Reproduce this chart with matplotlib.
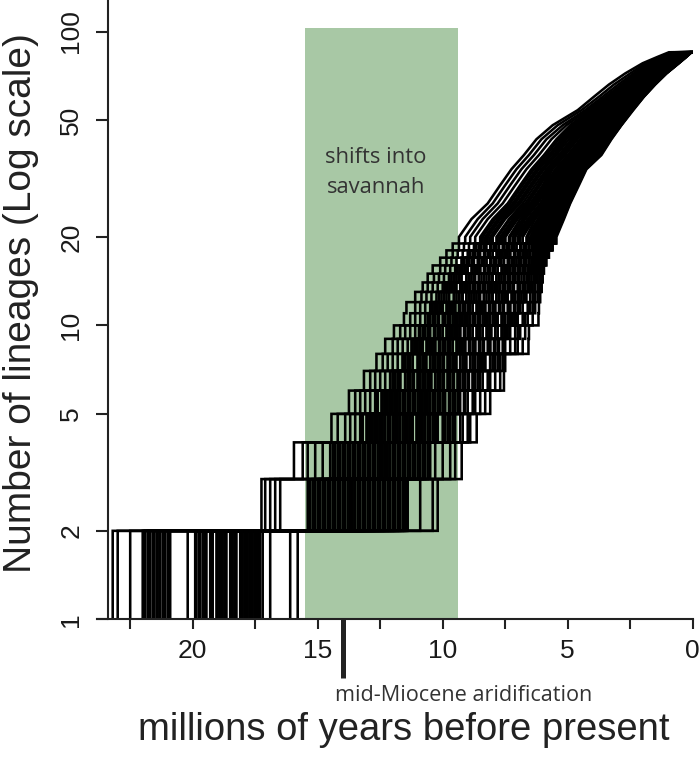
import numpy as np
import matplotlib
matplotlib.use("Agg")
import matplotlib.pyplot as plt
from matplotlib.ticker import NullLocator, FixedLocator
from matplotlib.transforms import blended_transform_factory

plt.rcParams['font.family'] = ['Liberation Sans', 'DejaVu Sans']

# lineage counts where every single step is visible (2 = root of each tree)
step_lineages = [2, 3, 4, 5, 6, 7, 8, 9, 10, 11, 12, 13, 14, 15, 16, 17, 18, 19, 20]
# one row per lineage count, one column per tree (Myr before present)
step_times = [
    [23.2, 23.0, 22.5, 22.0, 21.9, 21.8, 21.7, 21.6, 21.4, 21.3, 21.2, 21.0, 20.9, 20.2, 19.9, 19.7, 19.6, 19.5, 19.3, 19.2,
     19.0, 18.9, 18.8, 18.7, 18.5, 18.4, 18.3, 18.1, 18.0, 17.9, 17.8, 17.7, 17.6, 17.5, 17.4, 17.3, 17.2, 16.9, 16.1, 15.8],
    [17.25, 17.1, 16.9, 16.7, 16.5, 15.4, 15.2, 15.0, 14.9, 14.8, 14.6, 14.5, 14.4, 14.2, 14.1, 14.0, 13.9, 13.7, 13.6, 13.5,
     13.4, 13.2, 13.1, 13.0, 12.8, 12.7, 12.6, 12.4, 12.3, 12.2, 12.0, 11.9, 11.8, 11.7, 11.6, 11.5, 11.4, 10.9, 10.4, 10.2],
    [15.95, 15.6, 15.4, 15.1, 14.8, 14.5, 14.3, 14.2, 14.0, 13.9, 13.8, 13.6, 13.5, 13.4, 13.3, 13.1, 13.0, 12.9, 12.8, 12.7,
     12.5, 12.4, 12.3, 12.2, 12.0, 11.9, 11.8, 11.7, 11.5, 11.4, 11.2, 11.0, 10.9, 10.7, 10.5, 10.3, 10.0, 9.7, 9.5, 9.24],
    [14.45, 14.2, 13.9, 13.7, 13.5, 13.3, 13.2, 13.0, 12.9, 12.8, 12.7, 12.6, 12.5, 12.4, 12.2, 12.1, 12.0, 11.9, 11.8, 11.7,
     11.5, 11.4, 11.3, 11.2, 11.0, 10.9, 10.8, 10.6, 10.5, 10.3, 10.2, 10.0, 9.9, 9.7, 9.5, 9.3, 9.2, 9.0, 8.9, 8.64],
    [13.75, 13.5, 13.3, 13.1, 12.9, 12.7, 12.6, 12.4, 12.3, 12.2, 12.1, 12.0, 11.9, 11.8, 11.6, 11.5, 11.4, 11.3, 11.2, 11.1,
     10.9, 10.8, 10.7, 10.6, 10.4, 10.3, 10.2, 10.0, 9.9, 9.7, 9.6, 9.4, 9.3, 9.1, 9.0, 8.8, 8.7, 8.5, 8.3, 8.1],
    [13.15, 12.9, 12.7, 12.5, 12.3, 12.1, 12.0, 11.9, 11.8, 11.7, 11.5, 11.4, 11.3, 11.2, 11.0, 10.9, 10.8, 10.7, 10.6, 10.5,
     10.3, 10.2, 10.1, 10.0, 9.8, 9.7, 9.6, 9.4, 9.3, 9.1, 9.0, 8.8, 8.7, 8.5, 8.4, 8.2, 8.1, 7.9, 7.7, 7.55],
    [12.65, 12.4, 12.2, 12.0, 11.8, 11.6, 11.5, 11.4, 11.3, 11.2, 11.0, 10.9, 10.8, 10.7, 10.5, 10.4, 10.3, 10.2, 10.1, 10.0,
     9.8, 9.7, 9.6, 9.5, 9.3, 9.2, 9.1, 8.9, 8.8, 8.6, 8.5, 8.4, 8.3, 8.1, 8.0, 7.9, 7.8, 7.7, 7.6, 7.5],
    [12.3, 12.0, 11.8, 11.6, 11.4, 11.2, 11.1, 11.0, 10.9, 10.8, 10.6, 10.5, 10.4, 10.3, 10.1, 10.0, 9.9, 9.8, 9.7, 9.6,
     9.4, 9.3, 9.2, 9.1, 8.9, 8.8, 8.7, 8.5, 8.4, 8.2, 8.1, 7.9, 7.8, 7.6, 7.5, 7.3, 7.1, 7.0, 6.8, 6.57],
    [11.95, 11.7, 11.5, 11.3, 11.1, 10.9, 10.8, 10.7, 10.6, 10.5, 10.3, 10.2, 10.1, 10.0, 9.8, 9.7, 9.6, 9.5, 9.4, 9.3,
     9.1, 9.0, 8.9, 8.8, 8.6, 8.5, 8.4, 8.2, 8.1, 7.9, 7.8, 7.6, 7.5, 7.4, 7.3, 7.1, 7.0, 6.9, 6.7, 6.55],
    [11.55, 11.3, 11.1, 10.9, 10.7, 10.6, 10.5, 10.4, 10.3, 10.2, 10.0, 9.9, 9.8, 9.7, 9.5, 9.4, 9.3, 9.2, 9.1, 9.0,
     8.8, 8.7, 8.6, 8.5, 8.3, 8.2, 8.1, 7.9, 7.8, 7.6, 7.5, 7.3, 7.2, 7.1, 7.0, 6.8, 6.7, 6.6, 6.4, 6.17],
    [11.45, 11.1, 10.9, 10.7, 10.5, 10.4, 10.3, 10.2, 10.1, 10.0, 9.8, 9.7, 9.6, 9.5, 9.3, 9.2, 9.1, 9.0, 8.9, 8.8,
     8.6, 8.5, 8.4, 8.3, 8.1, 8.0, 7.9, 7.7, 7.6, 7.4, 7.3, 7.1, 7.0, 6.9, 6.8, 6.6, 6.5, 6.4, 6.3, 6.15],
    [11.1, 10.85, 10.65, 10.45, 10.25, 10.15, 10.05, 9.95, 9.85, 9.75, 9.55, 9.45, 9.35, 9.25, 9.05, 8.95, 8.85, 8.75, 8.65, 8.55,
     8.35, 8.25, 8.15, 8.05, 7.85, 7.75, 7.65, 7.5, 7.4, 7.2, 7.1, 6.95, 6.85, 6.75, 6.65, 6.5, 6.4, 6.3, 6.2, 6.1],
    [10.8, 10.6, 10.4, 10.2, 10.0, 9.9, 9.8, 9.7, 9.6, 9.5, 9.3, 9.2, 9.1, 9.0, 8.8, 8.7, 8.6, 8.5, 8.4, 8.3,
     8.1, 8.0, 7.9, 7.8, 7.6, 7.5, 7.4, 7.3, 7.2, 7.0, 6.9, 6.8, 6.7, 6.6, 6.5, 6.4, 6.3, 6.2, 6.1, 6.04],
    [10.6, 10.35, 10.15, 9.95, 9.75, 9.65, 9.55, 9.45, 9.35, 9.25, 9.05, 8.95, 8.85, 8.75, 8.55, 8.45, 8.35, 8.25, 8.15, 8.05,
     7.85, 7.75, 7.65, 7.55, 7.4, 7.3, 7.2, 7.1, 7.0, 6.85, 6.75, 6.65, 6.55, 6.45, 6.35, 6.28, 6.2, 6.12, 6.05, 6.0],
    [10.4, 10.1, 9.9, 9.7, 9.5, 9.4, 9.3, 9.2, 9.1, 9.0, 8.8, 8.7, 8.6, 8.5, 8.3, 8.2, 8.1, 8.0, 7.9, 7.8,
     7.6, 7.5, 7.4, 7.3, 7.2, 7.1, 7.0, 6.9, 6.8, 6.7, 6.6, 6.5, 6.4, 6.3, 6.2, 6.15, 6.1, 6.05, 6.0, 5.95],
    [10.1, 9.85, 9.65, 9.45, 9.25, 9.15, 9.05, 8.95, 8.85, 8.75, 8.55, 8.45, 8.35, 8.25, 8.05, 7.95, 7.85, 7.75, 7.65, 7.55,
     7.35, 7.25, 7.15, 7.05, 6.95, 6.85, 6.75, 6.65, 6.55, 6.45, 6.38, 6.3, 6.22, 6.15, 6.08, 6.02, 5.98, 5.93, 5.89, 5.85],
    [9.85, 9.6, 9.4, 9.2, 9.0, 8.9, 8.8, 8.7, 8.6, 8.5, 8.3, 8.2, 8.1, 8.0, 7.8, 7.7, 7.6, 7.5, 7.4, 7.3,
     7.1, 7.0, 6.9, 6.8, 6.7, 6.6, 6.5, 6.4, 6.3, 6.2, 6.15, 6.1, 6.05, 6.0, 5.95, 5.9, 5.85, 5.8, 5.78, 5.75],
    [9.6, 9.35, 9.15, 8.95, 8.75, 8.65, 8.55, 8.45, 8.35, 8.25, 8.05, 7.95, 7.85, 7.75, 7.55, 7.45, 7.35, 7.25, 7.15, 7.05,
     6.85, 6.75, 6.65, 6.55, 6.45, 6.35, 6.28, 6.2, 6.12, 6.05, 6.0, 5.95, 5.9, 5.85, 5.8, 5.75, 5.7, 5.65, 5.63, 5.6],
    [9.35, 9.1, 8.9, 8.7, 8.5, 8.4, 8.3, 8.2, 8.1, 8.0, 7.8, 7.7, 7.6, 7.5, 7.3, 7.2, 7.1, 7.0, 6.9, 6.8,
     6.6, 6.5, 6.4, 6.3, 6.2, 6.1, 6.05, 6.0, 5.95, 5.9, 5.85, 5.8, 5.75, 5.7, 5.65, 5.6, 5.55, 5.5, 5.48, 5.45],
]
# further trees, all inside the dense core of the bundle
step_times_core = [
    [21.95, 21.75, 21.55, 21.45, 21.1, 20.95, 19.85, 19.75, 19.45, 19.25, 19.05, 18.85, 18.65, 18.45, 18.25, 18.05, 17.85, 17.65, 17.45, 17.35],
    [15.3, 15.1, 14.95, 14.7, 14.55, 14.3, 14.15, 13.8, 13.65, 13.3, 13.15, 12.9, 12.75, 12.5, 12.35, 12.1, 11.95, 11.75, 11.55, 11.45],
    [14.4, 14.1, 13.95, 13.7, 13.55, 13.35, 13.2, 12.95, 12.75, 12.6, 12.45, 12.25, 12.1, 11.95, 11.75, 11.6, 11.3, 11.1, 10.8, 10.6],
    [13.25, 13.05, 12.85, 12.65, 12.45, 12.3, 12.15, 11.95, 11.85, 11.6, 11.45, 11.25, 11.05, 10.85, 10.7, 10.4, 10.25, 9.95, 9.8, 9.6],
    [12.65, 12.45, 12.25, 12.05, 11.85, 11.7, 11.55, 11.35, 11.15, 11.0, 10.85, 10.65, 10.5, 10.35, 10.1, 9.95, 9.75, 9.5, 9.35, 9.15],
    [12.1, 11.9, 11.7, 11.5, 11.3, 11.15, 11.0, 10.8, 10.6, 10.45, 10.3, 10.1, 9.95, 9.8, 9.55, 9.4, 9.2, 8.95, 8.8, 8.6],
    [11.6, 11.4, 11.2, 11.0, 10.8, 10.65, 10.5, 10.3, 10.1, 9.95, 9.8, 9.6, 9.45, 9.3, 9.05, 8.9, 8.7, 8.45, 8.3, 8.1],
    [11.25, 11.05, 10.85, 10.65, 10.45, 10.3, 10.15, 9.95, 9.75, 9.6, 9.45, 9.25, 9.1, 8.95, 8.7, 8.55, 8.35, 8.1, 7.95, 7.75],
    [10.95, 10.75, 10.55, 10.35, 10.15, 10.0, 9.85, 9.65, 9.45, 9.3, 9.15, 8.95, 8.8, 8.65, 8.4, 8.25, 8.05, 7.8, 7.65, 7.45],
    [10.55, 10.35, 10.15, 9.95, 9.75, 9.6, 9.45, 9.25, 9.05, 8.9, 8.75, 8.55, 8.4, 8.25, 8.0, 7.85, 7.65, 7.4, 7.25, 7.05],
    [10.45, 10.25, 10.05, 9.85, 9.65, 9.5, 9.35, 9.15, 8.95, 8.8, 8.65, 8.45, 8.3, 8.15, 7.9, 7.75, 7.55, 7.3, 7.15, 6.95],
    [10.15, 9.95, 9.75, 9.55, 9.35, 9.2, 9.05, 8.85, 8.65, 8.5, 8.35, 8.15, 8.0, 7.85, 7.6, 7.45, 7.25, 7.0, 6.85, 6.7],
    [9.85, 9.65, 9.45, 9.25, 9.05, 8.9, 8.75, 8.55, 8.35, 8.2, 8.05, 7.85, 7.7, 7.55, 7.3, 7.15, 6.95, 6.75, 6.6, 6.45],
    [9.65, 9.45, 9.25, 9.05, 8.85, 8.7, 8.55, 8.35, 8.15, 8.0, 7.85, 7.65, 7.5, 7.35, 7.1, 6.95, 6.75, 6.6, 6.45, 6.3],
    [9.45, 9.25, 9.05, 8.85, 8.65, 8.5, 8.35, 8.15, 7.95, 7.8, 7.65, 7.45, 7.3, 7.15, 6.9, 6.75, 6.6, 6.45, 6.35, 6.25],
    [9.2, 9.0, 8.8, 8.6, 8.4, 8.25, 8.1, 7.9, 7.7, 7.55, 7.4, 7.2, 7.05, 6.9, 6.7, 6.55, 6.45, 6.3, 6.2, 6.1],
    [8.95, 8.75, 8.55, 8.35, 8.15, 8.0, 7.85, 7.65, 7.45, 7.3, 7.15, 6.95, 6.8, 6.65, 6.5, 6.35, 6.25, 6.1, 6.0, 5.92],
    [8.7, 8.5, 8.3, 8.1, 7.9, 7.75, 7.6, 7.4, 7.2, 7.05, 6.9, 6.7, 6.55, 6.4, 6.3, 6.15, 6.05, 5.95, 5.85, 5.75],
    [8.45, 8.25, 8.05, 7.85, 7.65, 7.5, 7.35, 7.15, 6.95, 6.8, 6.65, 6.45, 6.35, 6.25, 6.15, 6.0, 5.9, 5.8, 5.7, 5.6],
]

# above 20 lineages the single steps are too small to see: read at checkpoints
upper_lineages = [23, 26, 30, 34, 38, 43, 48, 54, 60, 66, 72, 78, 82, 85]
upper_times = [
    [8.85, 8.6, 8.4, 8.2, 8.0, 7.9, 7.8, 7.7, 7.6, 7.5, 7.3, 7.2, 7.1, 7.0, 6.8, 6.7, 6.6, 6.5, 6.4, 6.3,
     6.2, 6.1, 6.0, 5.9, 5.85, 5.8, 5.75, 5.7, 5.65, 5.6, 5.55, 5.5, 5.45, 5.4, 5.35, 5.3, 5.25, 5.2, 5.18, 5.15],
    [8.2, 8.0, 7.8, 7.6, 7.4, 7.3, 7.2, 7.1, 7.0, 6.9, 6.7, 6.6, 6.5, 6.4, 6.3, 6.2, 6.1, 6.0, 5.9, 5.8,
     5.7, 5.65, 5.6, 5.55, 5.5, 5.45, 5.4, 5.35, 5.3, 5.25, 5.2, 5.15, 5.1, 5.07, 5.05, 5.02, 5.0, 4.95, 4.92, 4.9],
    [7.7, 7.5, 7.3, 7.1, 6.9, 6.8, 6.7, 6.6, 6.5, 6.4, 6.2, 6.1, 6.0, 5.9, 5.8, 5.7, 5.6, 5.5, 5.45, 5.4,
     5.3, 5.25, 5.2, 5.15, 5.1, 5.05, 5.0, 4.95, 4.9, 4.85, 4.8, 4.78, 4.75, 4.72, 4.7, 4.67, 4.64, 4.6, 4.58, 4.55],
    [7.25, 7.05, 6.85, 6.65, 6.45, 6.35, 6.25, 6.15, 6.05, 5.95, 5.8, 5.7, 5.6, 5.5, 5.4, 5.3, 5.2, 5.1, 5.05, 5.0,
     4.95, 4.9, 4.85, 4.8, 4.75, 4.7, 4.65, 4.6, 4.55, 4.5, 4.48, 4.45, 4.42, 4.4, 4.38, 4.35, 4.32, 4.3, 4.28, 4.25],
    [6.75, 6.55, 6.35, 6.15, 5.95, 5.85, 5.75, 5.65, 5.55, 5.45, 5.3, 5.2, 5.1, 5.0, 4.9, 4.8, 4.7, 4.6, 4.55, 4.5,
     4.45, 4.4, 4.35, 4.3, 4.25, 4.2, 4.15, 4.1, 4.05, 4.0, 3.95, 3.9, 3.87, 3.84, 3.8, 3.77, 3.74, 3.7, 3.68, 3.65],
    [6.25, 6.05, 5.85, 5.65, 5.45, 5.35, 5.25, 5.15, 5.05, 4.95, 4.8, 4.7, 4.6, 4.5, 4.4, 4.3, 4.2, 4.1, 4.05, 4.0,
     3.95, 3.9, 3.85, 3.8, 3.75, 3.7, 3.65, 3.6, 3.57, 3.54, 3.5, 3.47, 3.44, 3.41, 3.38, 3.35, 3.32, 3.3, 3.27, 3.25],
    [5.6, 5.4, 5.2, 5.05, 4.9, 4.75, 4.6, 4.5, 4.4, 4.3, 4.2, 4.1, 4.0, 3.9, 3.82, 3.74, 3.66, 3.58, 3.5, 3.44,
     3.38, 3.32, 3.27, 3.22, 3.18, 3.14, 3.1, 3.06, 3.03, 3.0, 2.97, 2.95, 2.93, 2.91, 2.9, 2.89, 2.88, 2.87, 2.86, 2.85],
    [4.6, 4.45, 4.3, 4.2, 4.1, 4.0, 3.9, 3.8, 3.72, 3.64, 3.56, 3.48, 3.4, 3.33, 3.26, 3.2, 3.14, 3.08, 3.02, 2.97,
     2.92, 2.88, 2.84, 2.8, 2.76, 2.72, 2.69, 2.66, 2.63, 2.6, 2.57, 2.54, 2.52, 2.5, 2.48, 2.46, 2.44, 2.42, 2.4, 2.38],
    [3.95, 3.75, 3.6, 3.47, 3.36, 3.26, 3.16, 3.07, 3.0, 2.93, 2.86, 2.8, 2.74, 2.68, 2.62, 2.57, 2.52, 2.47, 2.42, 2.38,
     2.34, 2.3, 2.27, 2.24, 2.21, 2.18, 2.15, 2.13, 2.11, 2.09, 2.07, 2.05, 2.03, 2.01, 2.0, 1.99, 1.98, 1.97, 1.96, 1.95],
    [3.35, 3.15, 2.98, 2.85, 2.74, 2.64, 2.55, 2.48, 2.41, 2.35, 2.29, 2.23, 2.18, 2.13, 2.08, 2.03, 1.99, 1.95, 1.91, 1.87,
     1.84, 1.81, 1.78, 1.75, 1.72, 1.7, 1.68, 1.66, 1.64, 1.62, 1.6, 1.58, 1.57, 1.56, 1.55, 1.54, 1.53, 1.52, 1.51, 1.5],
    [2.7, 2.5, 2.36, 2.25, 2.15, 2.06, 1.99, 1.92, 1.86, 1.8, 1.74, 1.69, 1.64, 1.59, 1.55, 1.51, 1.47, 1.43, 1.4, 1.37,
     1.34, 1.31, 1.28, 1.26, 1.24, 1.22, 1.2, 1.18, 1.16, 1.14, 1.13, 1.12, 1.11, 1.1, 1.09, 1.08, 1.07, 1.06, 1.055, 1.05],
    [2.0, 1.88, 1.78, 1.69, 1.61, 1.54, 1.47, 1.41, 1.35, 1.3, 1.25, 1.2, 1.15, 1.1, 1.06, 1.02, 0.98, 0.94, 0.9, 0.87,
     0.84, 0.81, 0.78, 0.76, 0.74, 0.72, 0.7, 0.68, 0.66, 0.64, 0.63, 0.62, 0.61, 0.6, 0.59, 0.58, 0.57, 0.565, 0.56, 0.55],
    [1.4, 1.3, 1.2, 1.12, 1.05, 0.98, 0.92, 0.86, 0.81, 0.76, 0.72, 0.68, 0.64, 0.6, 0.57, 0.54, 0.51, 0.48, 0.46, 0.44,
     0.42, 0.4, 0.38, 0.37, 0.36, 0.35, 0.34, 0.33, 0.32, 0.31, 0.3, 0.29, 0.285, 0.28, 0.275, 0.27, 0.265, 0.26, 0.255, 0.25],
    [0.95, 0.85, 0.78, 0.7, 0.64, 0.58, 0.53, 0.48, 0.44, 0.4, 0.37, 0.34, 0.31, 0.28, 0.26, 0.24, 0.22, 0.2, 0.18, 0.17,
     0.16, 0.15, 0.14, 0.13, 0.12, 0.11, 0.1, 0.1, 0.09, 0.09, 0.08, 0.08, 0.07, 0.07, 0.06, 0.06, 0.06, 0.05, 0.05, 0.05],
]
upper_times_core = [
    [7.95, 7.75, 7.55, 7.35, 7.15, 7.05, 6.9, 6.75, 6.55, 6.45, 6.35, 6.15, 6.05, 5.95, 5.87, 5.78, 5.68, 5.58, 5.48, 5.38],
    [7.35, 7.15, 6.95, 6.8, 6.6, 6.45, 6.35, 6.25, 6.05, 5.95, 5.85, 5.75, 5.62, 5.52, 5.42, 5.33, 5.22, 5.12, 5.04, 4.97],
    [6.85, 6.65, 6.45, 6.3, 6.15, 5.95, 5.85, 5.75, 5.65, 5.55, 5.42, 5.35, 5.22, 5.12, 5.02, 4.92, 4.82, 4.76, 4.69, 4.62],
    [6.4, 6.2, 6.0, 5.85, 5.75, 5.65, 5.45, 5.35, 5.25, 5.15, 5.02, 4.92, 4.82, 4.72, 4.62, 4.52, 4.46, 4.39, 4.33, 4.29],
    [5.9, 5.7, 5.5, 5.35, 5.25, 5.15, 4.95, 4.85, 4.75, 4.65, 4.52, 4.42, 4.32, 4.22, 4.12, 4.02, 3.92, 3.85, 3.78, 3.72],
    [5.4, 5.2, 5.1, 4.85, 4.75, 4.65, 4.45, 4.35, 4.25, 4.15, 4.02, 3.92, 3.82, 3.72, 3.62, 3.55, 3.48, 3.42, 3.36, 3.31],
    [4.82, 4.67, 4.55, 4.45, 4.35, 4.25, 4.15, 4.05, 3.95, 3.86, 3.78, 3.7, 3.62, 3.54, 3.41, 3.35, 3.24, 3.16, 3.08, 2.99],
    [4.05, 3.95, 3.85, 3.76, 3.68, 3.6, 3.52, 3.44, 3.36, 3.3, 3.23, 3.17, 3.11, 3.05, 2.99, 2.9, 2.82, 2.74, 2.67, 2.61],
    [3.42, 3.31, 3.21, 3.12, 3.03, 2.96, 2.9, 2.83, 2.77, 2.71, 2.65, 2.6, 2.55, 2.5, 2.45, 2.36, 2.29, 2.22, 2.16, 2.1],
    [2.8, 2.69, 2.6, 2.52, 2.45, 2.38, 2.32, 2.26, 2.2, 2.15, 2.1, 2.05, 2.01, 1.97, 1.93, 1.86, 1.79, 1.73, 1.67, 1.61],
    [2.2, 2.1, 2.02, 1.96, 1.89, 1.83, 1.77, 1.72, 1.67, 1.62, 1.57, 1.53, 1.49, 1.45, 1.41, 1.35, 1.3, 1.25, 1.19, 1.15],
    [1.65, 1.57, 1.5, 1.44, 1.38, 1.33, 1.28, 1.22, 1.17, 1.12, 1.08, 1.04, 1.0, 0.96, 0.92, 0.85, 0.8, 0.75, 0.69, 0.65],
    [1.08, 1.02, 0.95, 0.89, 0.84, 0.79, 0.74, 0.7, 0.66, 0.62, 0.58, 0.55, 0.52, 0.49, 0.45, 0.41, 0.39, 0.35, 0.33, 0.3],
    [0.67, 0.61, 0.55, 0.5, 0.46, 0.42, 0.38, 0.35, 0.32, 0.29, 0.27, 0.25, 0.23, 0.21, 0.19, 0.15, 0.13, 0.11, 0.09, 0.07],
]

x_labelled = [0, 5, 10, 15, 20]
x_unlabelled = [2.5, 7.5, 12.5, 17.5, 22.5]
y_ticks = [1, 2, 5, 10, 20, 50, 100]

savannah_start, savannah_end, savannah_top = 15.5, 9.4, 103
aridification = 14.0


def by_rank(a, b):
    # trees are paired by rank at every lineage count, oldest first
    return np.sort(np.hstack([np.array(a), np.array(b)]), axis=1)[:, ::-1]


low = by_rank(step_times, step_times_core)
high = by_rank(upper_times, upper_times_core)
both = np.minimum.accumulate(np.vstack([low, high]), axis=0)
low, high = both[:len(step_lineages)], both[len(step_lineages):]

fig = plt.figure(figsize=(7, 7.57), dpi=100)
ax = fig.add_axes([96.7 / 700, 1 - 619.3 / 757, 596 / 700, 619.3 / 757])

ax.fill_betweenx([1, savannah_top], savannah_start, savannah_end,
                 color='#a8c8a5', lw=0, zorder=0)

for i in range(low.shape[1]):
    xs = [low[0, i]]
    ys = [1]
    for n, t in zip(step_lineages, low[:, i]):
        xs += [t, t]
        ys += [ys[-1], n]
    xs += list(high[:, i]) + [0]
    ys += upper_lineages + [upper_lineages[-1]]
    ax.plot(xs[1:], ys[1:], color='black', lw=1.85, zorder=2,
            solid_joinstyle='miter')

ax.set_yscale('log')
ax.set_xlim(23.84, 0)
ax.set_ylim(1, 128)

for side in ['top', 'right']:
    ax.spines[side].set_visible(False)
ax.spines['left'].set_position(('data', 23.4))
for side in ['left', 'bottom']:
    ax.spines[side].set_linewidth(1.5)
    ax.spines[side].set_color('#222222')

ax.xaxis.set_major_locator(FixedLocator(x_labelled))
ax.xaxis.set_minor_locator(FixedLocator(x_unlabelled))
ax.set_xticklabels([str(v) for v in x_labelled])
ax.yaxis.set_major_locator(FixedLocator(y_ticks))
ax.yaxis.set_minor_locator(NullLocator())
ax.set_yticklabels([str(v) for v in y_ticks])

ax.tick_params(axis='x', which='both', direction='out', length=7.5, width=1.5,
               color='#222222', labelsize=19, pad=7, labelcolor='#1a1a1a')
ax.tick_params(axis='y', which='both', direction='out', length=8.5, width=1.5,
               color='#222222', labelsize=19, pad=9, labelcolor='#1a1a1a',
               labelrotation=90)
for lab in ax.get_yticklabels():
    lab.set_verticalalignment('center')

ax.text(12.67, 33.2, 'shifts into\nsavannah', ha='center', va='center',
        family=['Open Sans', 'DejaVu Sans'], fontsize=15.8, color='#333333',
        linespacing=1.55, zorder=3)

# mid-Miocene marker below the axis
trans = blended_transform_factory(ax.transData, ax.transAxes)
ax.plot([aridification, aridification], [0, -(678.3 - 619.3) / 619.3],
        transform=trans, clip_on=False, color='#222222', lw=3.6,
        solid_capstyle='butt')
fig.text(464 / 700, 1 - 701 / 757, 'mid-Miocene aridification', ha='center',
         va='baseline', family=['Open Sans', 'DejaVu Sans'], fontsize=15.6,
         color='#333333')

fig.text(404 / 700, 1 - 740 / 757, 'millions of years before present',
         ha='center', va='baseline', fontsize=27.5, color='#222222')
fig.text(21 / 700, 1 - 303 / 757, 'Number of lineages (Log scale)',
         ha='center', va='center', rotation=90, fontsize=28, color='#222222')

fig.savefig('out.png', dpi=100)
